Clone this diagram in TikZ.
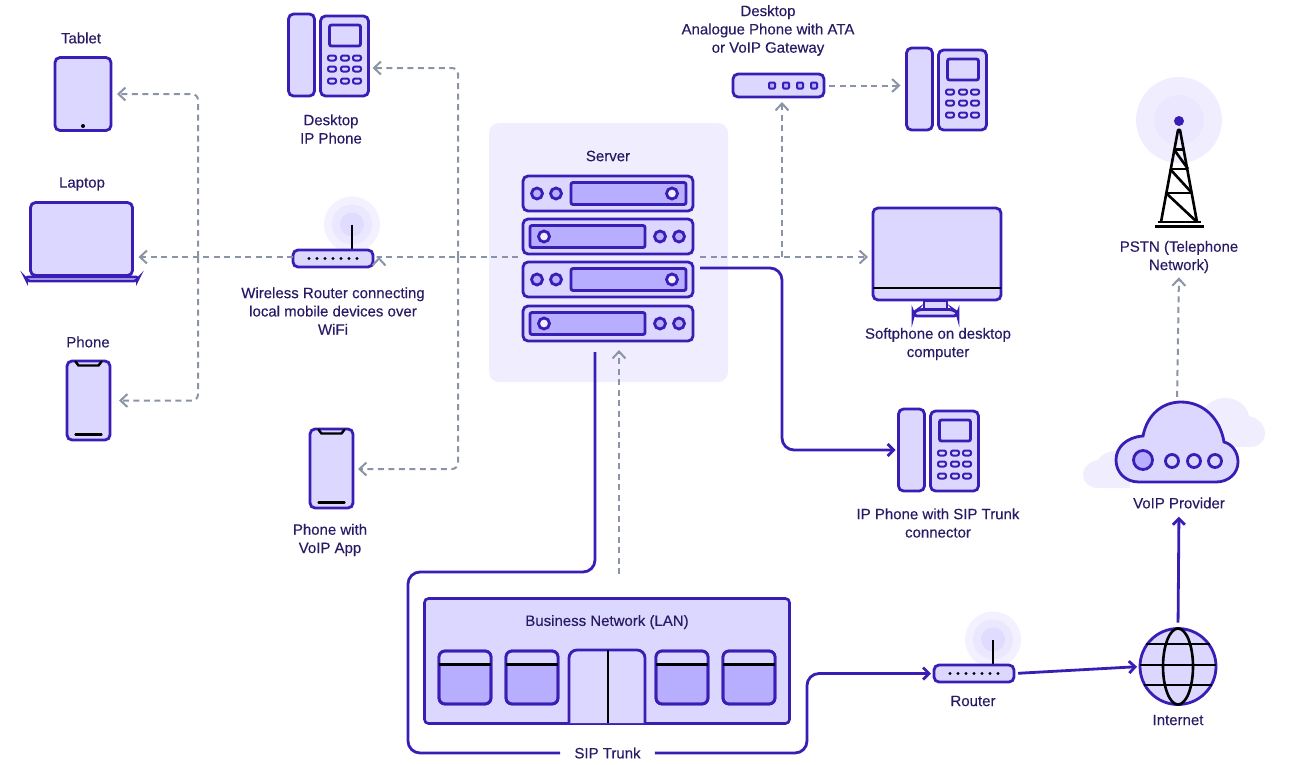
\documentclass[tikz,border=0pt]{standalone}
\usepackage{fontspec}
\setmainfont{Liberation Sans}[FakeBold=0.25]
\usetikzlibrary{arrows.meta}
\definecolor{stroke}{HTML}{3A1DB4}
\definecolor{soft}{HTML}{DBD7FF}
\definecolor{deep}{HTML}{B8AEFF}
\definecolor{panel}{HTML}{F0EEFE}
\definecolor{haloa}{HTML}{F3F1FF}
\definecolor{halob}{HTML}{EAE7FF}
\definecolor{haloc}{HTML}{E0DCFF}
\definecolor{dashgrey}{HTML}{8B94A6}
\definecolor{ink}{HTML}{2A1A66}
\tikzset{
  device/.style={draw=stroke,fill=soft,line width=2.8pt,rounded corners=5pt,inner sep=0pt,outer sep=0pt},
  screen/.style={device,fill=deep},
  key/.style={device,line width=2pt,rounded corners=2pt,minimum width=8pt,minimum height=5pt},
  label/.style={text=ink,align=center,inner sep=0pt,font=\fontsize{15}{18.3}\selectfont},
  dashline/.style={draw=dashgrey,line width=2pt,dash pattern=on 6pt off 4.5pt,rounded corners=6pt},
  dashtip/.style={-{Straight Barb[length=7pt,width=13pt,line width=2pt]}},
  solidline/.style={draw=stroke,line width=2.8pt,rounded corners=12pt},
  solidtip/.style={-{Straight Barb[length=6pt,width=12pt,line width=2.8pt]}},
  deskphone/.pic={
    \node[device,minimum width=26pt,minimum height=82pt] (-handset) at (14.5,42) {};
    \node[device,minimum width=48pt,minimum height=80pt] (-body) at (57.5,43) {};
    \node[device,rounded corners=2pt,minimum width=31pt,minimum height=21pt] at (58,22.5) {};
    \foreach \row in {45,56,68} \foreach \col in {45,58,70}
      \node[key] at (\col,\row) {};
  },
  mobile/.pic={
    \node[device,minimum width=43pt,minimum height=79pt] (-case) at (0,0) {};
    \draw[stroke,line width=2.4pt,line cap=round] (-13,-39) -- (-10,-35) -- (10,-35) -- (13,-39);
    \draw[stroke,line width=2.4pt,line cap=round] (-13,34) -- (13,34);
  },
  router/.pic={
    \fill[haloa] (19,-34) circle (28);
    \fill[halob] (19,-34) circle (20);
    \fill[haloc] (19,-34) circle (12);
    \draw[stroke,line width=2.8pt] (19,-34) -- (19,-9);
    \node[device,minimum width=80pt,minimum height=17pt] (-box) at (0,0) {};
    \foreach \dot in {-24,-16,-8,0,8,16,24}
      \fill[stroke] (\dot,0) circle (1.6);
  },
  rackleft/.pic={
    \node[device,minimum width=170pt,minimum height=35pt] (-frame) at (0,0) {};
    \node[screen,rounded corners=2pt,minimum width=115pt,minimum height=22pt] at (20.5,0) {};
    \foreach \x in {-71,-52} \node[screen,circle,minimum size=11pt] at (\x,0) {};
    \node[screen,circle,fill=soft!40,minimum size=11pt] at (64,0) {};
  },
  rackright/.pic={
    \node[device,minimum width=170pt,minimum height=35pt] (-frame) at (0,0) {};
    \node[screen,rounded corners=2pt,minimum width=115pt,minimum height=22pt] at (-20.5,0) {};
    \foreach \x in {52,71} \node[screen,circle,minimum size=11pt] at (\x,0) {};
    \node[screen,circle,fill=soft!40,minimum size=11pt] at (-64,0) {};
  },
  lanwindow/.pic={
    \node[screen,minimum width=52pt,minimum height=53pt,rounded corners=6pt] (-pane) at (0,0) {};
    \fill[soft,rounded corners=5pt] (-25,-25) rectangle (25,-12);
    \fill[soft] (-25,-19) rectangle (25,-13);
    \draw[device,fill=none,rounded corners=6pt] (-26,-26.5) rectangle (26,26.5);
    \draw[stroke,line width=2.8pt] (-26,-13) -- (26,-13);
  }
}
\begin{document}
\begin{tikzpicture}[x=1pt,y=-1pt]
  \useasboundingbox (0,0) rectangle (1300,764);
  \node[fill=panel,rounded corners=10pt,minimum width=239pt,minimum height=259pt,inner sep=0pt] (serverpanel) at (608.5,252.5) {};

  % left side
  \node[device,minimum width=56pt,minimum height=73pt] (tablet) at (83,94) {};
  \fill[stroke] (83,126) circle (2);
  \node[label] (tabletlabel) at (81,38) {Tablet};
  \node[device,minimum width=102pt,minimum height=73pt] (laptop) at (81.5,239) {};
  \draw[device,fill=soft,rounded corners=3pt] (25,277) -- (139,277) -- (137,281) -- (27,281) -- cycle;
  \node[label] (laptoplabel) at (82,184) {Laptop};
  \pic (phone) at (88.5,400.5) {mobile};
  \node[label] (phonelabel) at (88,342) {Phone};
  \pic (wifi) at (333,258.5) {router};
  \node[label] (wifilabel) at (333,311) {Wireless Router connecting\\local mobile devices over\\WiFi};

  % desk phones
  \pic (ipdesk) at (287,13) {deskphone};
  \node[label] (ipdesklabel) at (331,129) {Desktop\\IP Phone};
  \pic (ataphone) at (905,47) {deskphone};
  \pic (sipphone) at (897,408) {deskphone};
  \node[label] (sipphonelabel) at (938,523) {IP Phone with SIP Trunk\\connector};
  \pic (app) at (331.5,468.5) {mobile};
  \node[label] (applabel) at (330,540) {Phone with\\VoIP App};

  % gateway
  \node[device,minimum width=91pt,minimum height=23pt] (gateway) at (778.5,85.5) {};
  \foreach \x in {772,786,800,814} \node[screen,rounded corners=1pt,minimum size=6pt,line width=2pt] at (\x,85.5) {};
  \node[label] (gatewaylabel) at (768,30.5) {Desktop\\Analogue Phone with ATA\\or VoIP Gateway};

  % server
  \node[label] (serverlabel) at (608,156) {Server};
  \pic (racka) at (608,193.5) {rackleft};
  \pic (rackb) at (608,236.5) {rackright};
  \pic (rackc) at (608,279.5) {rackleft};
  \pic (rackd) at (608,323.5) {rackright};

  % monitor
  \node[device,minimum width=128pt,minimum height=92pt] (monitor) at (937,254) {};
  \draw[stroke,line width=2.8pt] (monitor.west |- 0,288) -- (monitor.east |- 0,288);
  \draw[device,rounded corners=0pt] (924,301) rectangle (947,309);
  \draw[device,rounded corners=4pt] (913,316) -- (913,313) -- (918,309.5) -- (953,309.5) -- (958,313) -- (958,316) -- cycle;
  \node[label] (monitorlabel) at (938,344) {Softphone on desktop\\computer};

  % tower
  \fill[panel] (1179,120) circle (43);
  \fill[halob] (1179,120) circle (25);
  \node[circle,fill=stroke,minimum size=10pt,inner sep=0pt] (mast) at (1179,121) {};
  \draw[stroke,line width=2.6pt,line join=round] (1161,222) -- (1178,130) -- (1180,130) -- (1197,222);
  \draw[stroke,line width=2.6pt] (1158,222) -- (1201,222) (1155,226.5) -- (1204,226.5);
  \draw[stroke,line width=2.6pt] (1174,149.5) -- (1184,149.5) (1170,169) -- (1188,169) (1166,193) -- (1192,193);
  \draw[stroke,line width=2.6pt] (1174,149.5) -- (1188,169) (1170,169) -- (1192,193) (1166,193) -- (1197,222);
  \node[label] (pstnlabel) at (1179,257) {PSTN (Telephone\\Network)};

  % cloud
  \fill[panel] (1190,447) .. controls (1192,420) and (1205,398) .. (1225,398) .. controls (1238,398) and (1247,406) .. (1249,416) .. controls (1258,418) and (1265,425) .. (1265,433) .. controls (1265,442) and (1258,447) .. (1250,447) -- cycle;
  \fill[panel] (1130,488) -- (1098,488) .. controls (1089,488) and (1083,482) .. (1083,475) .. controls (1083,467) and (1090,461) .. (1098,460) .. controls (1102,453) and (1110,450) .. (1130,450) -- cycle;
  \draw[device,rounded corners=0pt] (1139,482) .. controls (1125,482) and (1116,472) .. (1116,460) .. controls (1116,447) and (1127,437) .. (1143,436) .. controls (1147,415) and (1162,402) .. (1181,402) .. controls (1203,402) and (1220,418) .. (1224,442) .. controls (1232,444) and (1238,452) .. (1238,462) .. controls (1238,473) and (1229,482) .. (1216,482) -- cycle;
  \node[inner sep=0pt,minimum width=122pt,minimum height=80pt] (cloud) at (1177,442) {};
  \node[screen,circle,minimum size=19pt] at (1143,460) {};
  \foreach \x in {1172,1194,1215} \node[device,circle,minimum size=13pt] at (\x,461) {};
  \node[label] (cloudlabel) at (1179,503) {VoIP Provider};

  % LAN
  \node[device,line width=2.6pt,rounded corners=4pt,minimum width=365pt,minimum height=125pt] (lan) at (607,661) {};
  \node[label] (lanlabel) at (607,622) {Business Network (LAN)};
  \pic (wina) at (465,677.5) {lanwindow};
  \pic (winb) at (532,677.5) {lanwindow};
  \pic (winc) at (682,677.5) {lanwindow};
  \pic (wind) at (749,677.5) {lanwindow};
  \draw[device,rounded corners=8pt] (569,723) -- (569,650) -- (645,650) -- (645,723);
  \draw[stroke,line width=2.8pt] (608,650) -- (608,723);
  \node[label,fill=white,inner xsep=14pt,inner ysep=4pt] (siplabel) at (607.5,753) {SIP Trunk};

  % router and internet
  \pic (siterouter) at (974,673.5) {router};
  \node[label] (routerlabel) at (973,701) {Router};
  \node[device,circle,minimum size=76pt] (globe) at (1178,666.5) {};
  \draw[stroke,line width=2.6pt] (1178,666.5) ellipse (15 and 38);
  \draw[stroke,line width=2.6pt] (1146,644) -- (1210,644) (1140,665) -- (1216,665) (1144,685) -- (1212,685);
  \node[label] (globelabel) at (1178,720) {Internet};

  % dashed connectors
  \coordinate (serverwest) at (518,257);
  \coordinate (servereast) at (700,257);
  \coordinate (serverin) at (619,350);
  \coordinate (lanup) at (619,574);
  \coordinate (wifisplit) at (198,257);
  \coordinate (appsplit) at (458,257);
  \coordinate (gatesplit) at (782,257);
  \draw[dashline,dashtip] (serverwest) -- (wifi-box.east |- serverwest) -- ++(6,0);
  \draw[dashline,dashtip,shorten >=6pt] (wifi-box.west |- wifisplit) -- (laptop.east |- wifisplit);
  \draw[dashline,dashtip,shorten >=6pt] (wifisplit) -- (wifisplit |- tablet.east) -- (tablet.east);
  \draw[dashline,dashtip,shorten >=9pt] (wifisplit) -- (wifisplit |- phone-case.east) -- (phone-case.east);
  \draw[dashline,dashtip,shorten >=4pt] (appsplit) -- (458,68) -- (ipdesk-body.east |- 0,68);
  \draw[dashline,dashtip,shorten >=5pt] (appsplit) -- (458,469) -- (app-case.east |- 0,469);
  \draw[dashline,dashtip,shorten >=5pt] (servereast) -- (monitor.west |- servereast);
  \draw[dashline,dashtip,shorten >=5pt] (gatesplit) -- (gateway.south -| gatesplit);
  \draw[dashline,dashtip,shorten <=5pt,shorten >=6pt] (gateway.east) -- (ataphone-handset.west |- gateway.east);
  \draw[dashline,dashtip] (lanup) -- (serverin);
  \draw[dashline,dashtip,shorten <=5pt,shorten >=4pt] (cloud.north) -- (pstnlabel.south);

  % solid connectors
  \coordinate (rackout) at (700,268);
  \coordinate (trunkstart) at (595,352);
  \draw[solidline,solidtip,shorten >=3pt] (rackout) -- (782,268) -- (782,450) -- (sipphone-handset.west);
  \draw[solidline] (trunkstart) -- (595,572) -- (408,572) -- (408,753) -- (siplabel.west);
  \draw[solidline,solidtip,shorten >=3pt] (siplabel.east) -- (807,753) -- (807,673.5) -- (siterouter-box.west);
  \draw[solidline,solidtip,shorten <=4pt,shorten >=3pt] (siterouter-box.east) -- (globe.west);
  \draw[solidline,solidtip,shorten <=6pt,shorten >=8pt] (globe.north) -- (cloudlabel.south);
\end{tikzpicture}
\end{document}
